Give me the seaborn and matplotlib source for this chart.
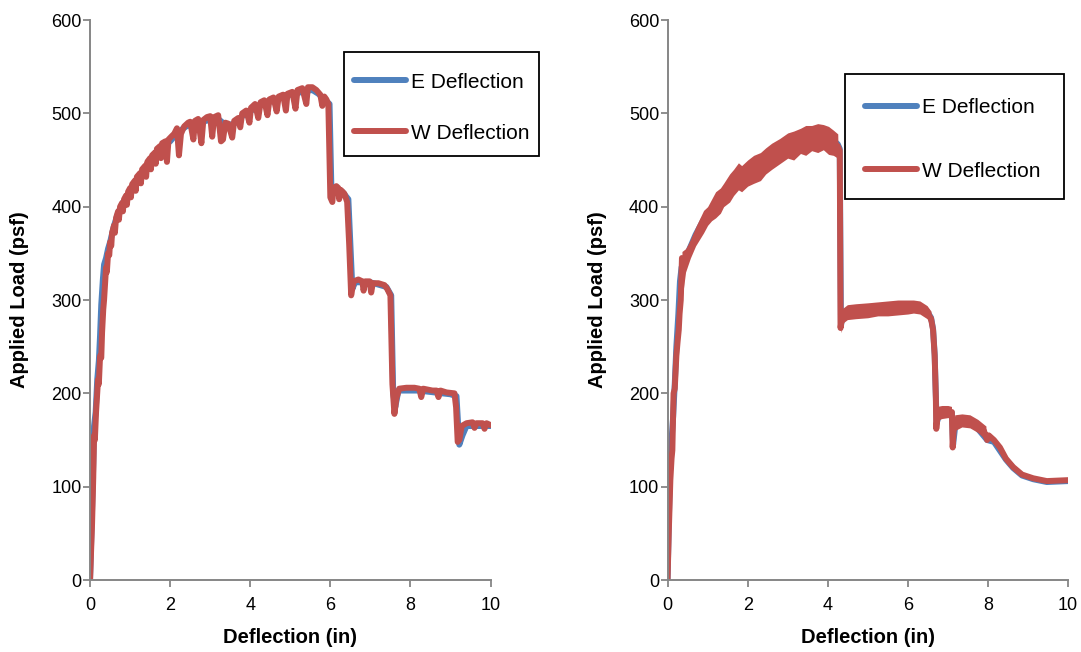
"""Two-panel load vs. deflection plot (E and W deflection gauges)."""

import matplotlib.patches as mpatches
import matplotlib.pyplot as plt
import matplotlib.ticker as mticker
import pandas as pd
import seaborn as sns

BLUE = "#4F81BD"
RED = "#C0504D"
GREY = "#868686"

# ---- left panel -----------------------------------------------------------
left_w_x = [0.00, 0.05, 0.08, 0.10, 0.12, 0.15, 0.18, 0.20, 0.22, 0.25, 0.28, 0.30,
            0.33, 0.35, 0.38, 0.40, 0.42, 0.45, 0.48, 0.50, 0.53, 0.55, 0.60, 0.62,
            0.65, 0.70, 0.72, 0.75, 0.80, 0.82, 0.85, 0.90, 0.92, 0.95, 1.00, 1.02,
            1.05, 1.12, 1.14, 1.17, 1.25, 1.27, 1.30, 1.38, 1.40, 1.43, 1.50, 1.52,
            1.55, 1.62, 1.64, 1.67, 1.75, 1.77, 1.80, 1.88, 1.92, 1.96, 2.05, 2.10,
            2.17, 2.22, 2.27, 2.35, 2.45, 2.50, 2.58, 2.62, 2.70, 2.78, 2.83, 2.92,
            3.00, 3.05, 3.10, 3.20, 3.27, 3.32, 3.38, 3.45, 3.55, 3.60, 3.70, 3.75,
            3.80, 3.90, 3.98, 4.02, 4.12, 4.20, 4.26, 4.35, 4.43, 4.48, 4.58, 4.66,
            4.71, 4.82, 4.89, 4.93, 5.05, 5.13, 5.18, 5.30, 5.40, 5.44, 5.55, 5.65,
            5.75, 5.80, 5.85, 5.90, 5.95, 6.00, 6.05, 6.08, 6.15, 6.20, 6.22, 6.26,
            6.35, 6.42, 6.47, 6.52, 6.58, 6.70, 6.80, 6.83, 6.87, 6.98, 7.02, 7.06,
            7.20, 7.35, 7.42, 7.50, 7.55, 7.60, 7.65, 7.72, 7.90, 8.10, 8.22, 8.27,
            8.32, 8.55, 8.65, 8.70, 8.75, 8.90, 9.10, 9.14, 9.18, 9.22, 9.28, 9.40,
            9.55, 9.60, 9.65, 9.80, 9.85, 9.90, 10.00]
left_w_y = [0, 60, 110, 155, 150, 180, 200, 215, 210, 240, 238, 265,
            290, 300, 320, 335, 330, 350, 348, 362, 358, 372, 380, 372,
            388, 395, 386, 400, 404, 395, 408, 412, 402, 416, 420, 410,
            424, 428, 417, 432, 436, 425, 440, 444, 432, 448, 452, 440,
            455, 458, 446, 462, 465, 452, 468, 470, 448, 472, 476, 478,
            484, 455, 478, 486, 490, 491, 472, 492, 494, 468, 493, 496,
            497, 475, 496, 498, 470, 472, 490, 489, 474, 492, 495, 485,
            500, 503, 490, 506, 510, 495, 512, 514, 498, 515, 517, 502,
            518, 520, 503, 521, 523, 505, 525, 527, 510, 528, 528, 525,
            520, 508, 518, 515, 510, 410, 405, 420, 422, 420, 408, 418,
            414, 405, 360, 305, 320, 322, 320, 310, 320, 320, 308, 318,
            318, 316, 312, 305, 210, 178, 195, 205, 206, 206, 205, 196,
            205, 203, 203, 196, 203, 201, 200, 185, 148, 150, 165, 168,
            169, 163, 168, 168, 162, 168, 166]

left_e_x = [0.00, 0.05, 0.08, 0.10, 0.14, 0.18, 0.22, 0.25, 0.28, 0.32, 0.35, 0.40,
            0.45, 0.50, 0.60, 0.70, 0.80, 0.90, 1.00, 1.20, 1.40, 1.60, 1.80, 2.00,
            2.20, 2.40, 2.60, 2.80, 3.00, 3.20, 3.40, 3.60, 3.80, 4.00, 4.20, 4.40,
            4.60, 4.80, 5.00, 5.20, 5.40, 5.55, 5.70, 5.85, 5.98, 6.03, 6.10, 6.30,
            6.45, 6.55, 6.62, 7.00, 7.40, 7.52, 7.57, 7.62, 7.70, 8.20, 9.00, 9.15,
            9.22, 9.30, 9.40, 10.00]
left_e_y = [0, 75, 125, 165, 180, 215, 235, 262, 295, 322, 338, 345,
            355, 362, 380, 393, 403, 410, 417, 430, 443, 454, 464, 470,
            480, 486, 489, 491, 493, 494, 487, 489, 497, 502, 508, 511,
            514, 517, 520, 522, 524, 525, 521, 515, 510, 412, 420, 416,
            408, 312, 319, 319, 314, 305, 200, 185, 203, 203, 199, 197,
            145, 155, 165, 165]

# ---- right panel ----------------------------------------------------------
right_w_x = [0.00, 0.03, 0.07, 0.10, 0.12, 0.15, 0.18, 0.22, 0.25, 0.28, 0.30, 0.33,
             0.36, 0.38, 0.45, 0.57, 0.70, 0.90, 1.10, 1.32, 1.55, 1.77, 2.00, 2.32,
             2.60, 3.00, 3.32, 3.60, 3.89, 4.14, 4.25, 4.30, 4.32, 4.35, 4.49, 5.00,
             5.50, 6.00, 6.30, 6.48, 6.58, 6.63, 6.67, 6.70, 6.71, 6.74, 6.80, 6.95,
             7.05, 7.10, 7.12, 7.15, 7.20, 7.35, 7.50, 7.65, 7.80, 7.90, 7.98, 8.02,
             8.15, 8.30, 8.45, 8.63, 8.85, 9.13, 9.47, 10.00]
right_w_y = [0, 50, 107, 130, 139, 200, 205, 240, 255, 268, 285, 300,
             345, 340, 343, 355, 368, 384, 396, 406, 420, 432, 436, 443,
             454, 466, 471, 474, 475, 469, 465, 460, 270, 280, 287, 289,
             291, 293, 292, 287, 280, 268, 240, 195, 162, 175, 180, 181,
             180, 180, 142, 165, 172, 172, 170, 168, 163, 160, 150, 155,
             150, 142, 130, 121, 113, 109, 106, 107]

# noisy bands of the W trace (outer edges)
band_x = [0.36, 0.45, 0.57, 0.70, 0.90, 1.00, 1.10, 1.20, 1.32, 1.40, 1.55, 1.65,
          1.77, 1.85, 2.00, 2.15, 2.32, 2.45, 2.60, 2.80, 3.00, 3.15, 3.32, 3.45,
          3.60, 3.75, 3.89, 4.02, 4.14, 4.25, 4.33, 4.40, 4.49, 4.70, 5.00, 5.25,
          5.50, 5.75, 6.00, 6.14, 6.30, 6.48, 6.58]
band_lo = [300, 330, 345, 358, 372, 380, 385, 388, 393, 400, 405, 412,
           418, 416, 422, 425, 428, 435, 440, 446, 452, 450, 457, 455,
           460, 458, 461, 456, 455, 452, 265, 276, 279, 280, 281, 283,
           283, 284, 285, 286, 285, 280, 272]
band_hi = [352, 355, 364, 378, 396, 400, 408, 416, 420, 425, 435, 440,
           447, 444, 450, 455, 458, 463, 468, 473, 479, 481, 484, 487,
           487, 489, 488, 486, 482, 478, 290, 292, 295, 296, 297, 298,
           299, 300, 300, 300, 299, 294, 288]

tail_band_x = [6.73, 6.85, 7.00, 7.09]
tail_band_lo = [171, 173, 174, 173]
tail_band_hi = [186, 187, 187, 186]
tail2_band_x = [7.17, 7.35, 7.55, 7.75, 7.95]
tail2_band_lo = [160, 164, 163, 158, 150]
tail2_band_hi = [177, 178, 177, 172, 165]

right_e_x = [0.00, 0.03, 0.06, 0.10, 0.14, 0.18, 0.22, 0.27, 0.31, 0.35, 0.45, 0.57,
             0.70, 0.90, 1.10, 1.32, 1.55, 1.77, 2.00, 2.32, 2.60, 3.00, 3.32, 3.60,
             3.89, 4.14, 4.25, 4.30, 4.33, 4.36, 4.49, 5.00, 5.50, 6.00, 6.30, 6.48,
             6.58, 6.63, 6.67, 6.70, 6.72, 6.80, 7.10, 7.13, 7.20, 7.65, 7.98, 8.15,
             8.45, 8.63, 8.85, 9.13, 9.47, 10.00]
right_e_y = [0, 60, 115, 150, 175, 210, 250, 285, 320, 335, 345, 357,
             370, 386, 398, 408, 422, 434, 438, 445, 456, 468, 473, 476,
             477, 471, 467, 462, 272, 282, 288, 290, 292, 294, 293, 288,
             281, 269, 242, 196, 168, 180, 179, 145, 171, 167, 150, 148,
             129, 120, 112, 108, 105, 106]

series_names = ["E Deflection", "W Deflection"]
x_ticks = [0, 2, 4, 6, 8, 10]
y_ticks = [0, 100, 200, 300, 400, 500, 600]


def to_frame(ex, ey, wx, wy):
    e = pd.DataFrame({"x": ex, "y": ey, "series": series_names[0]})
    w = pd.DataFrame({"x": wx, "y": wy, "series": series_names[1]})
    return pd.concat([e, w], ignore_index=True)


sns.set_theme(style="ticks")
plt.rcParams["font.family"] = ["Liberation Sans", "DejaVu Sans"]
plt.rcParams["text.color"] = "black"
plt.rcParams["axes.labelcolor"] = "black"

fig, axes = plt.subplots(1, 2, figsize=(10.81, 6.52), dpi=100)
fig.subplots_adjust(left=0.0833, right=0.988, bottom=0.1104, top=0.9693, wspace=0.442)

right_bands = [(band_x, band_lo, band_hi),
               (tail_band_x, tail_band_lo, tail_band_hi),
               (tail2_band_x, tail2_band_lo, tail2_band_hi)]

# legend placement: (box x0, y0, w, h) in axes units, legend anchor, spacing
panels = [
    (to_frame(left_e_x, left_e_y, left_w_x, left_w_y), [],
     (0.635, 0.757, 0.485, 0.186), (0.635, 0.923), 1.54, 0.45),
    (to_frame(right_e_x, right_e_y, right_w_x, right_w_y), right_bands,
     (0.444, 0.680, 0.546, 0.223), (0.444, 0.896), 2.14, 0.95),
]

for ax, (df, bands, box, anchor, spacing, pad) in zip(axes, panels):
    sns.lineplot(data=df, x="x", y="y", hue="series", palette=[BLUE, RED],
                 sort=False, estimator=None, units="series", linewidth=4.3,
                 ax=ax, legend=False)
    for bx, lo, hi in bands:
        ax.fill_between(bx, lo, hi, color=RED, linewidth=0, zorder=3)
    for line in ax.get_lines():
        line.set_solid_joinstyle("round")
        line.set_solid_capstyle("round")

    ax.set_xlim(0, 10)
    ax.set_ylim(0, 600)
    ax.set_xticks(x_ticks)
    ax.set_yticks(y_ticks)
    ax.xaxis.set_major_formatter(mticker.StrMethodFormatter("{x:.0f}"))
    ax.set_xlabel("Deflection (in)", fontsize=14.5, fontweight="bold", labelpad=10.5)
    ax.set_ylabel("Applied Load (psf)", fontsize=14.5, fontweight="bold", labelpad=16)
    ax.tick_params(direction="out", length=5, width=1.3, color=GREY,
                   labelsize=13, labelcolor="black")
    ax.tick_params(axis="x", pad=7)
    ax.tick_params(axis="y", pad=1)
    sns.despine(ax=ax)
    for side in ("left", "bottom"):
        ax.spines[side].set_color(GREY)
        ax.spines[side].set_linewidth(1.4)

    # legend frame drawn as its own box so vertical padding can differ
    ax.add_patch(mpatches.Rectangle(box[:2], box[2], box[3], transform=ax.transAxes,
                                    facecolor="white", edgecolor="black",
                                    linewidth=1.3, clip_on=False, zorder=4))
    handles = [plt.Line2D([], [], color=c, linewidth=4.3, solid_capstyle="round")
               for c in (BLUE, RED)]
    leg = ax.legend(handles, series_names, loc="upper left", fontsize=15,
                    frameon=False, bbox_to_anchor=anchor, labelspacing=spacing,
                    borderpad=pad, handlelength=2.5, handletextpad=0.25,
                    borderaxespad=0)
    leg.set_zorder(5)

fig.savefig("out.png", dpi=100)
plt.close(fig)
